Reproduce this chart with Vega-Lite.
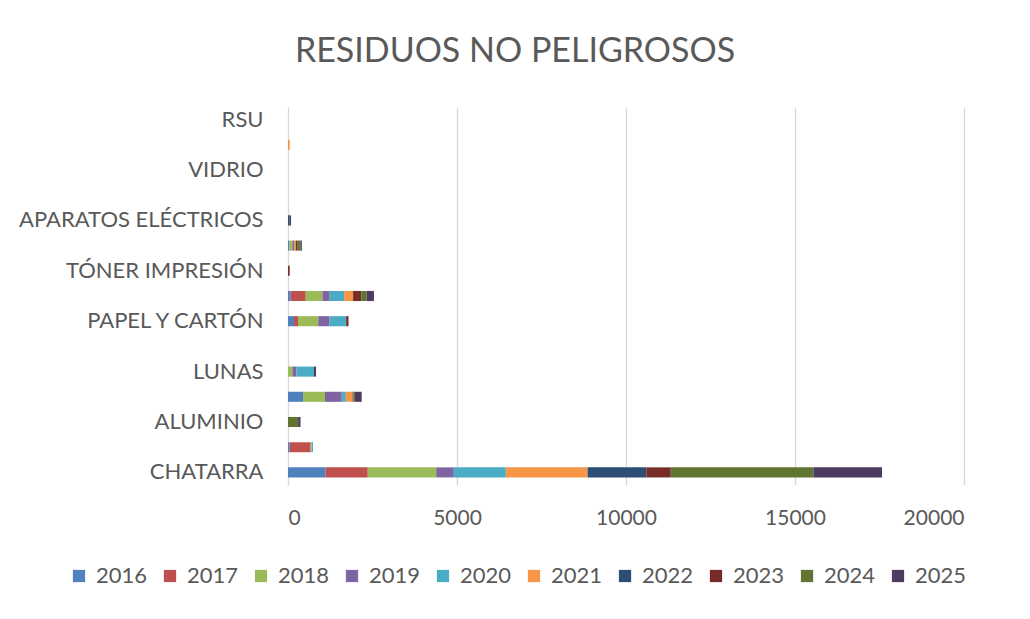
{
  "$schema": "https://vega.github.io/schema/vega-lite/v6.json",
  "autosize": "none",
  "padding": {"left": 288, "top": 107, "right": 66, "bottom": 134},
  "width": 676,
  "height": 378,
  "background": "white",
  "title": {
    "text": "RESIDUOS NO PELIGROSOS",
    "font": "Lato",
    "fontSize": 34,
    "fontWeight": "normal",
    "color": "#595959",
    "anchor": "middle",
    "frame": "group",
    "dx": -111,
    "offset": 38
  },
  "data": {
    "values": [
      {"residuo": "CHATARRA", "anio": "2016", "t": 1110},
      {"residuo": "CHATARRA", "anio": "2017", "t": 1250},
      {"residuo": "CHATARRA", "anio": "2018", "t": 2025},
      {"residuo": "CHATARRA", "anio": "2019", "t": 520},
      {"residuo": "CHATARRA", "anio": "2020", "t": 1540},
      {"residuo": "CHATARRA", "anio": "2021", "t": 2420},
      {"residuo": "CHATARRA", "anio": "2022", "t": 1735},
      {"residuo": "CHATARRA", "anio": "2023", "t": 725},
      {"residuo": "CHATARRA", "anio": "2024", "t": 4220},
      {"residuo": "CHATARRA", "anio": "2025", "t": 2030},
      {"residuo": "COBRE", "anio": "2016", "t": 50},
      {"residuo": "COBRE", "anio": "2017", "t": 620},
      {"residuo": "COBRE", "anio": "2018", "t": 30},
      {"residuo": "COBRE", "anio": "2020", "t": 40},
      {"residuo": "ALUMINIO", "anio": "2024", "t": 300},
      {"residuo": "ALUMINIO", "anio": "2025", "t": 70},
      {"residuo": "CABLES", "anio": "2016", "t": 445},
      {"residuo": "CABLES", "anio": "2018", "t": 650},
      {"residuo": "CABLES", "anio": "2019", "t": 495},
      {"residuo": "CABLES", "anio": "2020", "t": 120},
      {"residuo": "CABLES", "anio": "2021", "t": 200},
      {"residuo": "CABLES", "anio": "2023", "t": 30},
      {"residuo": "CABLES", "anio": "2024", "t": 40},
      {"residuo": "CABLES", "anio": "2025", "t": 200},
      {"residuo": "LUNAS", "anio": "2018", "t": 130},
      {"residuo": "LUNAS", "anio": "2019", "t": 120},
      {"residuo": "LUNAS", "anio": "2020", "t": 520},
      {"residuo": "LUNAS", "anio": "2025", "t": 60},
      {"residuo": "PAPEL Y CARTÓN", "anio": "2016", "t": 178},
      {"residuo": "PAPEL Y CARTÓN", "anio": "2017", "t": 118},
      {"residuo": "PAPEL Y CARTÓN", "anio": "2018", "t": 600},
      {"residuo": "PAPEL Y CARTÓN", "anio": "2019", "t": 335},
      {"residuo": "PAPEL Y CARTÓN", "anio": "2020", "t": 490},
      {"residuo": "PAPEL Y CARTÓN", "anio": "2023", "t": 70},
      {"residuo": "MADERA", "anio": "2016", "t": 80},
      {"residuo": "MADERA", "anio": "2017", "t": 445},
      {"residuo": "MADERA", "anio": "2018", "t": 495},
      {"residuo": "MADERA", "anio": "2019", "t": 215},
      {"residuo": "MADERA", "anio": "2020", "t": 425},
      {"residuo": "MADERA", "anio": "2021", "t": 265},
      {"residuo": "MADERA", "anio": "2023", "t": 245},
      {"residuo": "MADERA", "anio": "2024", "t": 157},
      {"residuo": "MADERA", "anio": "2025", "t": 215},
      {"residuo": "TÓNER IMPRESIÓN", "anio": "2023", "t": 50},
      {"residuo": "PLÁSTICOS", "anio": "2016", "t": 40},
      {"residuo": "PLÁSTICOS", "anio": "2018", "t": 90},
      {"residuo": "PLÁSTICOS", "anio": "2019", "t": 50},
      {"residuo": "PLÁSTICOS", "anio": "2021", "t": 50},
      {"residuo": "PLÁSTICOS", "anio": "2023", "t": 40},
      {"residuo": "PLÁSTICOS", "anio": "2024", "t": 100},
      {"residuo": "PLÁSTICOS", "anio": "2025", "t": 40},
      {"residuo": "APARATOS ELÉCTRICOS", "anio": "2022", "t": 50},
      {"residuo": "APARATOS ELÉCTRICOS", "anio": "2025", "t": 40},
      {"residuo": "ACEITE VEGETAL", "anio": "2021", "t": 50}
    ]
  },
  "mark": {"type": "bar"},
  "encoding": {
    "y": {
      "field": "residuo",
      "type": "nominal",
      "title": null,
      "scale": {
        "domain": ["RSU", "ACEITE VEGETAL", "VIDRIO", "TEXTIL", "APARATOS ELÉCTRICOS", "PLÁSTICOS", "TÓNER IMPRESIÓN", "MADERA", "PAPEL Y CARTÓN", "NEUMÁTICOS", "LUNAS", "CABLES", "ALUMINIO", "COBRE", "CHATARRA"],
        "paddingInner": 0.6,
        "paddingOuter": 0.3
      },
      "axis": {
        "labelExpr": "indexof(['RSU','VIDRIO','APARATOS ELÉCTRICOS','TÓNER IMPRESIÓN','PAPEL Y CARTÓN','LUNAS','ALUMINIO','CHATARRA'], datum.value) >= 0 ? datum.value : ''",
        "labelFont": "Lato",
        "labelFontSize": 22,
        "labelColor": "#595959",
        "labelPadding": 25,
        "labelLimit": 300,
        "ticks": false,
        "domain": true,
        "domainColor": "#d9d9d9",
        "grid": false
      }
    },
    "x": {
      "field": "t",
      "type": "quantitative",
      "aggregate": "sum",
      "stack": "zero",
      "title": null,
      "scale": {"domain": [0, 20000], "nice": false},
      "axis": {
        "values": [0, 5000, 10000, 15000, 20000],
        "format": "d",
        "labelFont": "Lato",
        "labelFontSize": 21,
        "labelColor": "#595959",
        "labelPadding": 22,
        "ticks": false,
        "domain": false,
        "grid": true,
        "gridColor": "#d9d9d9",
        "gridWidth": 1.3
      }
    },
    "color": {
      "field": "anio",
      "type": "nominal",
      "title": null,
      "scale": {
        "domain": ["2016", "2017", "2018", "2019", "2020", "2021", "2022", "2023", "2024", "2025"],
        "range": ["#4F81BD", "#C0504D", "#9BBB59", "#8064A2", "#4BACC6", "#F79646", "#2C4D75", "#772C2A", "#5F7530", "#4D3B62"]
      },
      "legend": {
        "orient": "none",
        "direction": "horizontal",
        "legendX": -220,
        "legendY": 458,
        "symbolType": "square",
        "symbolSize": 150,
        "symbolStrokeWidth": 0,
        "labelFont": "Lato",
        "labelFontSize": 22,
        "labelColor": "#595959",
        "labelOffset": 6,
        "columnPadding": 11
      }
    },
    "order": {"field": "anio"}
  },
  "config": {
    "view": {"stroke": null}
  }
}
